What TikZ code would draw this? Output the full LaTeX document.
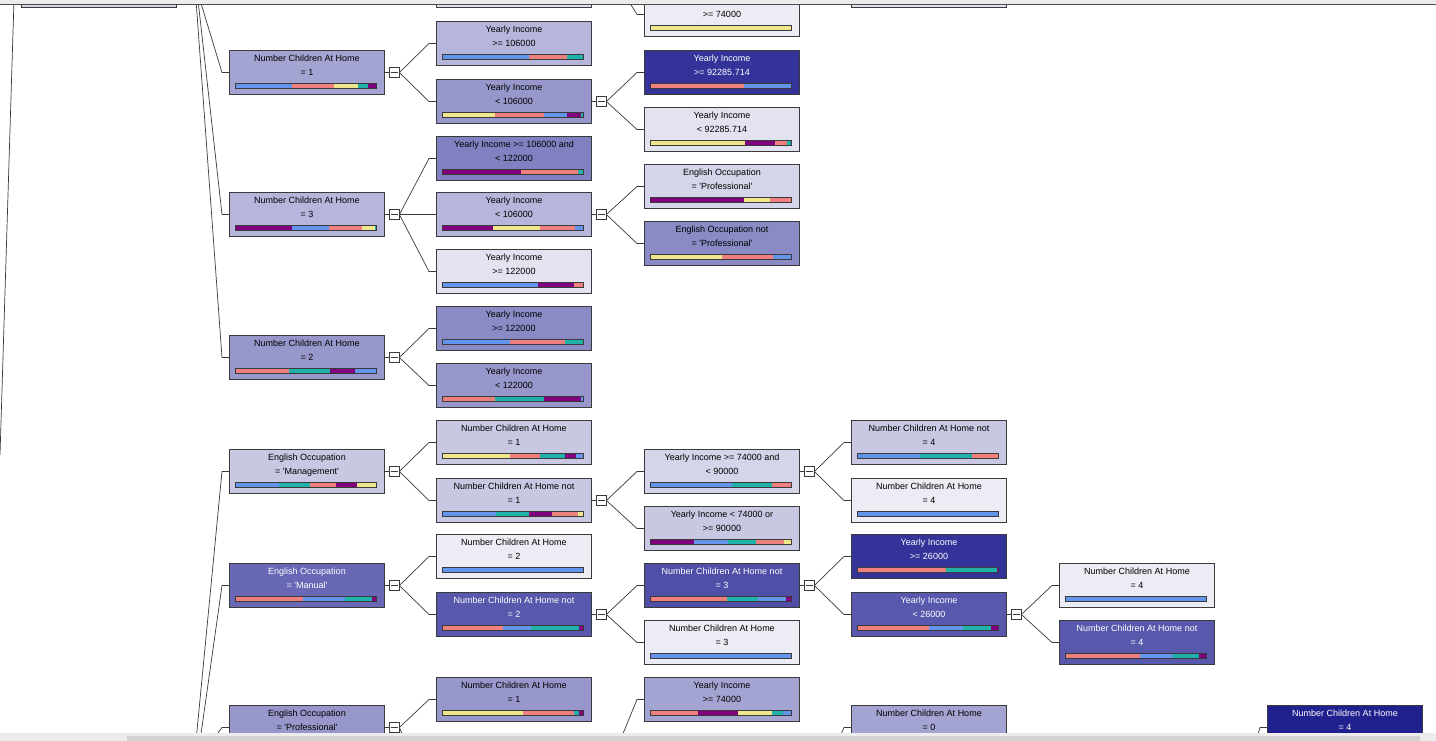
\documentclass[tikz,border=0pt]{standalone}
\usepackage{fontspec}
\setmainfont{Liberation Sans}
\definecolor{blu}{HTML}{6495ED}
\definecolor{sal}{HTML}{F08080}
\definecolor{yel}{HTML}{F0E68C}
\definecolor{tea}{HTML}{20B2AA}
\definecolor{pur}{HTML}{800080}
\definecolor{shA}{HTML}{ECECF5}
\definecolor{shB}{HTML}{E2E2F0}
\definecolor{shC}{HTML}{D5D5EA}
\definecolor{shD}{HTML}{C8C8E3}
\definecolor{shE}{HTML}{B6B6DC}
\definecolor{shF}{HTML}{A4A4D2}
\definecolor{shG}{HTML}{9797CB}
\definecolor{shH}{HTML}{8A8AC5}
\definecolor{shI}{HTML}{8181C1}
\definecolor{shJ}{HTML}{6868B6}
\definecolor{shK}{HTML}{5858AD}
\definecolor{shL}{HTML}{4F4FA8}
\definecolor{shM}{HTML}{33339A}
\definecolor{shN}{HTML}{20208F}
\definecolor{edge}{HTML}{3A3A3A}
\tikzset{
  dtbox/.style={draw=edge, line width=1pt, anchor=north west, minimum width=155, minimum height=44,
    inner sep=0pt, align=center, text height=25pt, text depth=19pt, font=\fontsize{9}{14}\selectfont},
  dark/.style={text=white},
  dtbar/.style={draw=edge, line width=0.8pt},
  dtline/.style={draw=edge, line width=0.7pt},
  dtexp/.style={draw=edge, line width=0.8pt, fill=white, minimum size=10, inner sep=0pt,
    path picture={\draw[edge, line width=0.8pt] ([xshift=1.5]path picture bounding box.west) -- ([xshift=-1.5]path picture bounding box.east);}}
}
\newcommand{\Q}{\textquotesingle}
\newcommand{\dtnode}[5]{%
  \node[dtbox,#4] (#1) at (#2,#3) {#5};}
\newcommand{\dtbars}[2]{%
  \foreach \c/\e [remember=\e as \s (initially 0)] in {#2}
    \fill[\c] ([shift={(6.5+1.41*\s,33.5)}]#1.north west) rectangle ([shift={(6.5+1.41*\e,38.5)}]#1.north west);
  \draw[dtbar] ([shift={(6.5,33.5)}]#1.north west) rectangle ([shift={(147.5,38.5)}]#1.north west);}
\newcommand{\dtlink}[2]{%
  \node[dtexp] (#1x) at ([xshift=9]#1.east) {};
  \draw[dtline] (#1.east) -- (#1x.west);
  \foreach \k in {#2}
    \draw[dtline] (#1x.east) -- ([xshift=-7]\k.west) -- (\k.west);}
\begin{document}
\begin{tikzpicture}[x=1pt,y=-1pt]
  \useasboundingbox (0,0) rectangle (1436,741);
  \clip (0,0) rectangle (1436,741);
  \fill[white] (0,0) rectangle (1436,741);

  \dtnode{c0}{21}{-37}{fill=shC}{}
  \dtnode{t2}{436}{-37}{fill=shB}{}
  \dtnode{t3}{644}{-8}{fill=shA}{\mbox{}\\>= 74000}
  \dtbars{t3}{yel/100}
  \dtnode{t4}{851}{-37}{fill=shB}{}

  \dtnode{n1}{229}{50}{fill=shF}{Number Children At Home\\= 1}
  \dtbars{n1}{blu/40,sal/70,yel/87,tea/94,pur/100}
  \dtnode{n3}{229}{192}{fill=shE}{Number Children At Home\\= 3}
  \dtbars{n3}{pur/40,blu/66,sal/90,yel/99,tea/100}
  \dtnode{n2}{229}{335}{fill=shG}{Number Children At Home\\= 2}
  \dtbars{n2}{sal/38,tea/67,pur/85,blu/100}
  \dtnode{om}{229}{449}{fill=shD}{English Occupation\\= \Q Management\Q}
  \dtbars{om}{blu/31,tea/53,sal/71,pur/86,yel/100}
  \dtnode{ou}{229}{563}{fill=shJ,dark}{English Occupation\\= \Q Manual\Q}
  \dtbars{ou}{sal/48,blu/78,tea/97,pur/100}
  \dtnode{op}{229}{705}{fill=shG}{English Occupation\\= \Q Professional\Q}
  \dtbars{op}{yel/45,sal/80,pur/100}

  \dtnode{a1}{436}{21}{fill=shE}{Yearly Income\\>= 106000}
  \dtbars{a1}{blu/61,sal/88,tea/100}
  \dtnode{a2}{436}{79}{fill=shG}{Yearly Income\\< 106000}
  \dtbars{a2}{yel/37,sal/72,blu/88,pur/98,tea/100}
  \dtnode{b1}{436}{136}{fill=shI}{Yearly Income >= 106000 and\\< 122000}
  \dtbars{b1}{pur/56,sal/96,tea/100}
  \dtnode{b2}{436}{192}{fill=shE}{Yearly Income\\< 106000}
  \dtbars{b2}{pur/36,yel/69,sal/94,blu/100}
  \dtnode{b3}{436}{249}{fill=shB}{Yearly Income\\>= 122000}
  \dtbars{b3}{blu/68,pur/93,sal/100}
  \dtnode{c1}{436}{306}{fill=shH}{Yearly Income\\>= 122000}
  \dtbars{c1}{blu/48,sal/87,tea/100}
  \dtnode{c2}{436}{363}{fill=shG}{Yearly Income\\< 122000}
  \dtbars{c2}{sal/37,tea/72,pur/98,blu/100}
  \dtnode{d1}{436}{420}{fill=shD}{Number Children At Home\\= 1}
  \dtbars{d1}{yel/48,sal/69,tea/87,pur/95,blu/100}
  \dtnode{d2}{436}{478}{fill=shD}{Number Children At Home not\\= 1}
  \dtbars{d2}{blu/38,tea/61,pur/78,sal/96,yel/100}
  \dtnode{e1}{436}{534}{fill=shA}{Number Children At Home\\= 2}
  \dtbars{e1}{blu/100}
  \dtnode{e2}{436}{592}{fill=shK,dark}{Number Children At Home not\\= 2}
  \dtbars{e2}{sal/43,blu/63,tea/97,pur/100}
  \dtnode{f1}{436}{677}{fill=shG}{Number Children At Home\\= 1}
  \dtbars{f1}{yel/57,sal/93,tea/97,pur/100}

  \dtnode{g1}{644}{50}{fill=shM,dark}{Yearly Income\\>= 92285.714}
  \dtbars{g1}{sal/66,blu/100}
  \dtnode{g2}{644}{107}{fill=shB}{Yearly Income\\< 92285.714}
  \dtbars{g2}{yel/67,pur/88,sal/97,tea/100}
  \dtnode{h1}{644}{164}{fill=shC}{English Occupation\\= \Q Professional\Q}
  \dtbars{h1}{pur/66,yel/85,sal/100}
  \dtnode{h2}{644}{221}{fill=shH}{English Occupation not\\= \Q Professional\Q}
  \dtbars{h2}{yel/51,sal/87,blu/100}
  \dtnode{k1}{644}{449}{fill=shC}{Yearly Income >= 74000 and\\< 90000}
  \dtbars{k1}{blu/58,tea/86,sal/100}
  \dtnode{k2}{644}{506}{fill=shD}{Yearly Income < 74000 or\\>= 90000}
  \dtbars{k2}{pur/31,blu/55,tea/75,sal/95,yel/100}
  \dtnode{m1}{644}{563}{fill=shL,dark}{Number Children At Home not\\= 3}
  \dtbars{m1}{sal/54,tea/76,blu/96,pur/100}
  \dtnode{m2}{644}{620}{fill=shA}{Number Children At Home\\= 3}
  \dtbars{m2}{blu/100}
  \dtnode{p1}{644}{677}{fill=shF}{Yearly Income\\>= 74000}
  \dtbars{p1}{sal/34,pur/62,yel/86,tea/94,blu/100}

  \dtnode{q1}{851}{420}{fill=shD}{Number Children At Home not\\= 4}
  \dtbars{q1}{blu/44,tea/81,sal/100}
  \dtnode{q2}{851}{478}{fill=shA}{Number Children At Home\\= 4}
  \dtbars{q2}{blu/100}
  \dtnode{r1}{851}{534}{fill=shM,dark}{Yearly Income\\>= 26000}
  \dtbars{r1}{sal/63,tea/99,pur/100}
  \dtnode{r2}{851}{592}{fill=shK,dark}{Yearly Income\\< 26000}
  \dtbars{r2}{sal/51,blu/75,tea/95,pur/100}
  \dtnode{s1}{851}{705}{fill=shF}{Number Children At Home\\= 0}

  \dtnode{u1}{1059}{563}{fill=shA}{Number Children At Home\\= 4}
  \dtbars{u1}{blu/100}
  \dtnode{u2}{1059}{620}{fill=shK,dark}{Number Children At Home not\\= 4}
  \dtbars{u2}{sal/53,blu/76,tea/95,pur/100}

  \dtnode{v1}{1267}{705}{fill=shN,dark}{Number Children At Home\\= 4}

  \dtlink{n1}{a1,a2}
  \dtlink{a2}{g1,g2}
  \dtlink{n3}{b1,b2,b3}
  \dtlink{b2}{h1,h2}
  \dtlink{n2}{c1,c2}
  \dtlink{om}{d1,d2}
  \dtlink{d2}{k1,k2}
  \dtlink{k1}{q1,q2}
  \dtlink{ou}{e1,e2}
  \dtlink{e2}{m1,m2}
  \dtlink{m1}{r1,r2}
  \dtlink{r2}{u1,u2}
  \dtlink{op}{f1}

  \coordinate (lt) at (14,0);
  \coordinate (lb) at (0,455);
  \coordinate (ta) at (200,0);
  \coordinate (tb) at (198,0);
  \coordinate (tc) at (196,0);
  \coordinate (tt) at (628,0);
  \coordinate (ba) at (196,741);
  \coordinate (bb) at (200,741);
  \coordinate (bc) at (212,741);
  \coordinate (opd) at (405,741);
  \coordinate (pa) at (620,741);
  \coordinate (sa) at (838,741);
  \coordinate (va) at (1256,741);
  \draw[dtline] (lt) -- (lb);
  \draw[dtline] (ta) -- ([xshift=-7]n1.west) -- (n1.west);
  \draw[dtline] (tb) -- ([xshift=-7]n3.west) -- (n3.west);
  \draw[dtline] (tc) -- ([xshift=-7]n2.west) -- (n2.west);
  \draw[dtline] (tt) -- ([xshift=-7]t3.west) -- (t3.west);
  \draw[dtline] (ba) -- ([xshift=-7]om.west) -- (om.west);
  \draw[dtline] (bb) -- ([xshift=-7]ou.west) -- (ou.west);
  \draw[dtline] (bc) -- ([xshift=-7]op.west) -- (op.west);
  \draw[dtline] (opx.east) -- (opd);
  \draw[dtline] (pa) -- ([xshift=-7]p1.west) -- (p1.west);
  \draw[dtline] (sa) -- ([xshift=-7]s1.west) -- (s1.west);
  \draw[dtline] (va) -- ([xshift=-7]v1.west) -- (v1.west);

  \fill[gray!15] (0,0) rectangle (1436,4);
  \draw[gray!60!black, line width=1pt] (0,4.5) -- (1436,4.5);
  \fill[gray!15] (0,733) rectangle (1436,741);
  \fill[gray!35] (127,736) rectangle (1420,741);
\end{tikzpicture}
\end{document}
